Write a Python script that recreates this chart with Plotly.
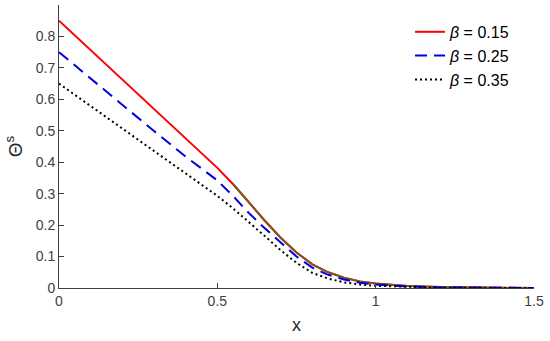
import plotly.graph_objects as go

x = [0, 0.1, 0.2, 0.3, 0.4, 0.45, 0.5, 0.55, 0.6, 0.65, 0.7, 0.75, 0.8, 0.85, 0.9, 0.95, 1.0, 1.1, 1.2, 1.3, 1.4, 1.5]
theta_b015 = [0.85, 0.757, 0.664, 0.571, 0.478, 0.431, 0.382, 0.330, 0.272, 0.214, 0.160, 0.113, 0.075, 0.050, 0.033, 0.021, 0.014, 0.006, 0.003, 0.001, 0.0005, 0.0]
theta_b025 = [0.75, 0.666, 0.582, 0.499, 0.418, 0.380, 0.342, 0.292, 0.238, 0.190, 0.145, 0.100, 0.065, 0.042, 0.027, 0.017, 0.011, 0.005, 0.002, 0.001, 0.0005, 0.0]
theta_b035 = [0.65, 0.579, 0.508, 0.437, 0.366, 0.330, 0.293, 0.253, 0.210, 0.165, 0.120, 0.080, 0.048, 0.030, 0.018, 0.011, 0.007, 0.003, 0.001, 0.0005, 0.0002, 0.0]
labels = ["<i>β</i> = 0.15", "<i>β</i> = 0.25", "<i>β</i> = 0.35"]
y_ticks = [0, 0.1, 0.2, 0.3, 0.4, 0.5, 0.6, 0.7, 0.8]
y_tick_text = ["0", "0.1", "0.2", "0.3", "0.4", "0.5", "0.6", "0.7", "0.8"]
x_ticks = [0, 0.5, 1, 1.5]
x_tick_text = ["0", "0.5", "1", "1.5"]

fig = go.Figure()
fig.add_trace(go.Scatter(x=x, y=theta_b015, mode="lines", name=labels[0],
                         line=dict(color="#FF0000", width=2)))
# overlapped (brownish) part of the beta=0.15 curve beyond the knee
split = 7
fig.add_trace(go.Scatter(x=x[split:], y=theta_b015[split:], mode="lines", showlegend=False,
                         hoverinfo="skip", line=dict(color="#7A5A22", width=2)))
fig.add_trace(go.Scatter(x=x, y=theta_b025, mode="lines", name=labels[1],
                         line=dict(color="#0000E0", width=2, dash="12px,7px")))
fig.add_trace(go.Scatter(x=x, y=theta_b035, mode="lines", name=labels[2],
                         line=dict(color="#000000", width=2, dash="2px,3px")))

axis_color = "#404040"
fig.update_layout(
    width=550, height=341,
    margin=dict(l=59, r=16, t=5, b=53),
    paper_bgcolor="white", plot_bgcolor="white",
    font=dict(family="Arial, Liberation Sans, sans-serif", size=14, color=axis_color),
    showlegend=True,
    legend=dict(x=0.739, y=0.965, xanchor="left", yanchor="top",
                bgcolor="rgba(255,255,255,0)",
                font=dict(family="Arial, Liberation Sans, sans-serif", size=16, color="#000000")),
    xaxis=dict(range=[0, 1.5], tickvals=x_ticks, ticktext=x_tick_text,
               showgrid=False, zeroline=False, showline=True, linecolor=axis_color, linewidth=1,
               ticks="inside", ticklen=5, tickcolor=axis_color, mirror=False,
               title=dict(text="x", font=dict(size=18, color="#262626"), standoff=10)),
    yaxis=dict(range=[0, 0.9], tickvals=y_ticks, ticktext=y_tick_text,
               showgrid=False, zeroline=False, showline=True, linecolor=axis_color, linewidth=1,
               ticks="inside", ticklen=5, tickcolor=axis_color, mirror=False,
               title=dict(text="Θ<sup>s</sup>", font=dict(size=19, color="#262626"), standoff=8)),
)

fig.write_html("out.html", config={"displayModeBar": False},
               post_script="document.body.style.margin='0';")
